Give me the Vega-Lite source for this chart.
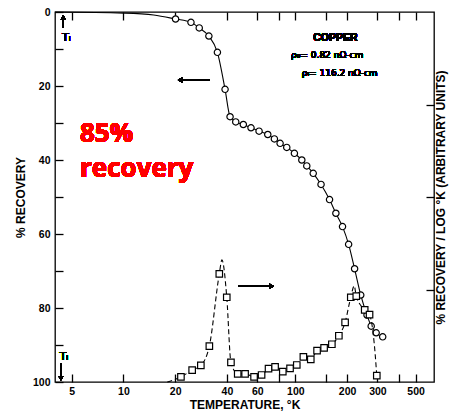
{
  "$schema": "https://vega.github.io/schema/vega-lite/v6.json",
  "width": 379,
  "height": 370,
  "autosize": {"type": "none"},
  "padding": {"left": 55, "top": 12, "right": 27, "bottom": 30},
  "background": "white",
  "config": {
    "view": {"stroke": "black", "strokeWidth": 1.3},
    "axis": {
      "domain": false, "offset": -8, "ticks": true,
      "tickColor": "black", "tickWidth": 1.3, "tickSize": 8, "tickOpacity": 1,
      "labelPadding": 4,
      "labelFont": "Liberation Sans", "labelFontSize": 10.5, "labelFontWeight": "bold", "labelColor": "black",
      "titleFont": "Liberation Sans", "titleFontSize": 12, "titleFontWeight": "bold", "titleColor": "black",
      "titlePadding": 3,
      "grid": false
    }
  },
  "data": {
    "values": [
      {"series": "R", "measured": false, "T": 4.0, "R": 0},
      {"series": "R", "measured": false, "T": 10, "R": 0.3},
      {"series": "R", "measured": false, "T": 15, "R": 0.8},
      {"series": "R", "measured": true, "T": 20.1, "R": 1.9},
      {"series": "R", "measured": true, "T": 24.7, "R": 2.8},
      {"series": "R", "measured": true, "T": 27.6, "R": 4.3},
      {"series": "R", "measured": true, "T": 31.4, "R": 6.5},
      {"series": "R", "measured": true, "T": 35.2, "R": 10.9},
      {"series": "R", "measured": true, "T": 39.0, "R": 20.9},
      {"series": "R", "measured": true, "T": 41.7, "R": 28.3},
      {"series": "R", "measured": true, "T": 45.0, "R": 29.7},
      {"series": "R", "measured": true, "T": 49.8, "R": 30.4},
      {"series": "R", "measured": true, "T": 55.2, "R": 31.3},
      {"series": "R", "measured": true, "T": 61.5, "R": 32.2},
      {"series": "R", "measured": true, "T": 69.1, "R": 33.1},
      {"series": "R", "measured": true, "T": 75.5, "R": 34.3},
      {"series": "R", "measured": true, "T": 81.5, "R": 35.5},
      {"series": "R", "measured": true, "T": 89.1, "R": 36.6},
      {"series": "R", "measured": true, "T": 98.7, "R": 38.2},
      {"series": "R", "measured": true, "T": 109, "R": 40.0},
      {"series": "R", "measured": true, "T": 116.5, "R": 41.6},
      {"series": "R", "measured": true, "T": 127, "R": 43.6},
      {"series": "R", "measured": true, "T": 141, "R": 46.6},
      {"series": "R", "measured": true, "T": 158, "R": 50.7},
      {"series": "R", "measured": true, "T": 172, "R": 54.4},
      {"series": "R", "measured": true, "T": 188, "R": 58.0},
      {"series": "R", "measured": true, "T": 204, "R": 62.8},
      {"series": "R", "measured": true, "T": 221, "R": 69.4},
      {"series": "R", "measured": true, "T": 240, "R": 76.5},
      {"series": "R", "measured": true, "T": 261, "R": 81.9},
      {"series": "R", "measured": true, "T": 276, "R": 84.9},
      {"series": "R", "measured": true, "T": 295, "R": 86.7},
      {"series": "R", "measured": true, "T": 322, "R": 87.8},
      {"series": "D", "measured": false, "T": 18, "R": 100},
      {"series": "D", "measured": true, "T": 21.6, "R": 98.6},
      {"series": "D", "measured": true, "T": 25.1, "R": 96.8},
      {"series": "D", "measured": true, "T": 28.2, "R": 95.5},
      {"series": "D", "measured": true, "T": 31.6, "R": 90.3},
      {"series": "D", "measured": true, "T": 36.1, "R": 70.8},
      {"series": "D", "measured": false, "T": 37.4, "R": 67.0},
      {"series": "D", "measured": true, "T": 39.9, "R": 77.1},
      {"series": "D", "measured": true, "T": 42.2, "R": 94.7},
      {"series": "D", "measured": true, "T": 46.2, "R": 97.8},
      {"series": "D", "measured": true, "T": 51.0, "R": 97.8},
      {"series": "D", "measured": true, "T": 57.5, "R": 98.6},
      {"series": "D", "measured": true, "T": 63.6, "R": 98.1},
      {"series": "D", "measured": true, "T": 69.8, "R": 96.4},
      {"series": "D", "measured": true, "T": 76.2, "R": 95.9},
      {"series": "D", "measured": true, "T": 84.5, "R": 97.2},
      {"series": "D", "measured": true, "T": 93.1, "R": 96.3},
      {"series": "D", "measured": true, "T": 101.9, "R": 95.4},
      {"series": "D", "measured": true, "T": 111.3, "R": 93.2},
      {"series": "D", "measured": true, "T": 122.9, "R": 93.9},
      {"series": "D", "measured": true, "T": 133.7, "R": 91.5},
      {"series": "D", "measured": true, "T": 146.9, "R": 90.8},
      {"series": "D", "measured": true, "T": 163, "R": 89.8},
      {"series": "D", "measured": true, "T": 179, "R": 87.5},
      {"series": "D", "measured": true, "T": 194.6, "R": 83.9},
      {"series": "D", "measured": true, "T": 210, "R": 77.1},
      {"series": "D", "measured": false, "T": 220, "R": 74.0},
      {"series": "D", "measured": true, "T": 226, "R": 76.8},
      {"series": "D", "measured": true, "T": 253, "R": 80.5},
      {"series": "D", "measured": true, "T": 270, "R": 81.8},
      {"series": "D", "measured": false, "T": 288, "R": 90.0},
      {"series": "D", "measured": true, "T": 297.5, "R": 98.3}
    ]
  },
  "resolve": {"scale": {"x": "shared", "y": "shared"}, "axis": {"x": "independent", "y": "independent"}},
  "layer": [
    {
      "transform": [{"filter": "datum.series === 'R'"}],
      "mark": {"type": "line", "interpolate": "monotone", "color": "black", "strokeWidth": 1.1},
      "encoding": {
        "x": {"field": "T", "type": "quantitative",
          "scale": {"type": "log", "domain": [4, 640], "nice": false},
          "axis": {"orient": "bottom", "title": "TEMPERATURE, °K",
            "values": [5, 10, 20, 40, 60, 80, 100, 150, 200, 300, 400, 500],
            "labelExpr": "indexof([5,10,20,40,60,100,200,300,500], datum.value) >= 0 ? datum.label : ''",
            "labelFlush": false, "labelOverlap": false}},
        "y": {"field": "R", "type": "quantitative",
          "scale": {"domain": [0, 100], "reverse": true, "nice": false},
          "axis": {"orient": "left", "title": "% RECOVERY", "labelPadding": 5, "titlePadding": 5,
            "values": [0, 10, 20, 30, 40, 50, 60, 70, 80, 90, 100],
            "labelExpr": "datum.value % 20 === 0 ? datum.label : ''",
            "labelFlush": false, "labelOverlap": false}}
      }
    },
    {
      "transform": [{"filter": "datum.series === 'R' && datum.measured"}],
      "mark": {"type": "point", "shape": "circle", "filled": true, "fill": "white", "stroke": "black", "strokeWidth": 1.2, "size": 40, "opacity": 1},
      "encoding": {
        "x": {"field": "T", "type": "quantitative",
          "axis": {"orient": "top", "title": null, "labels": false,
            "values": [5, 10, 20, 40, 60, 80, 100, 150, 200, 300, 400, 500]}},
        "y": {"field": "R", "type": "quantitative",
          "axis": {"orient": "right", "title": "% RECOVERY / LOG °K (ARBITRARY UNITS)", "titleAngle": 270,
            "labels": false, "values": [25, 50, 75], "titlePadding": 13}}
      }
    },
    {
      "transform": [{"filter": "datum.series === 'D'"}],
      "mark": {"type": "line", "interpolate": "monotone", "color": "black", "strokeWidth": 1.1, "strokeDash": [5, 3]},
      "encoding": {
        "x": {"field": "T", "type": "quantitative", "axis": null},
        "y": {"field": "R", "type": "quantitative", "axis": null}
      }
    },
    {
      "transform": [{"filter": "datum.series === 'D' && datum.measured"}],
      "mark": {"type": "point", "shape": "square", "filled": true, "fill": "white", "stroke": "black", "strokeWidth": 1.2, "size": 42, "opacity": 1},
      "encoding": {
        "x": {"field": "T", "type": "quantitative", "axis": null},
        "y": {"field": "R", "type": "quantitative", "axis": null}
      }
    },
    {
      "mark": {"type": "rule", "color": "black", "strokeWidth": 1.1},
      "encoding": {
        "x": {"datum": 22.0, "type": "quantitative", "axis": null},
        "x2": {"datum": 31.5},
        "y": {"datum": 18.4, "type": "quantitative", "axis": null}
      }
    },
    {
      "mark": {"type": "point", "shape": "triangle-left", "filled": true, "color": "black", "size": 30, "opacity": 1},
      "encoding": {
        "x": {"datum": 21.4, "type": "quantitative", "axis": null},
        "y": {"datum": 18.4, "type": "quantitative", "axis": null}
      }
    },
    {
      "mark": {"type": "rule", "color": "black", "strokeWidth": 1.1},
      "encoding": {
        "x": {"datum": 46.6, "type": "quantitative", "axis": null},
        "x2": {"datum": 71.5},
        "y": {"datum": 74.1, "type": "quantitative", "axis": null}
      }
    },
    {
      "mark": {"type": "point", "shape": "triangle-right", "filled": true, "color": "black", "size": 30, "opacity": 1},
      "encoding": {
        "x": {"datum": 72.8, "type": "quantitative", "axis": null},
        "y": {"datum": 74.1, "type": "quantitative", "axis": null}
      }
    },
    {
      "mark": {"type": "rule", "color": "black", "strokeWidth": 1.1},
      "encoding": {
        "x": {"datum": 4.47, "type": "quantitative", "axis": null},
        "y": {"datum": 1.8, "type": "quantitative", "axis": null},
        "y2": {"datum": 4.1}
      }
    },
    {
      "mark": {"type": "point", "shape": "triangle-up", "filled": true, "color": "black", "size": 25, "opacity": 1},
      "encoding": {
        "x": {"datum": 4.47, "type": "quantitative", "axis": null},
        "y": {"datum": 1.4, "type": "quantitative", "axis": null}
      }
    },
    {
      "mark": {"type": "rule", "color": "black", "strokeWidth": 1.1},
      "encoding": {
        "x": {"datum": 4.33, "type": "quantitative", "axis": null},
        "y": {"datum": 94.9, "type": "quantitative", "axis": null},
        "y2": {"datum": 98.6}
      }
    },
    {
      "mark": {"type": "point", "shape": "triangle-down", "filled": true, "color": "black", "size": 25, "opacity": 1},
      "encoding": {
        "x": {"datum": 4.33, "type": "quantitative", "axis": null},
        "y": {"datum": 99.0, "type": "quantitative", "axis": null}
      }
    },
    {
      "mark": {"type": "text", "text": "Tᵢ", "font": "DejaVu Sans", "fontSize": 11, "color": "black", "align": "left", "baseline": "middle"},
      "encoding": {
        "x": {"datum": 4.4, "type": "quantitative", "axis": null},
        "y": {"datum": 6.9, "type": "quantitative", "axis": null}
      }
    },
    {
      "mark": {"type": "text", "text": "Tᵢ", "font": "DejaVu Sans", "fontSize": 11, "color": "black", "align": "left", "baseline": "middle"},
      "encoding": {
        "x": {"datum": 4.25, "type": "quantitative", "axis": null},
        "y": {"datum": 93.2, "type": "quantitative", "axis": null}
      }
    },
    {
      "mark": {"type": "text", "text": "COPPER", "font": "Liberation Sans", "fontSize": 10.5, "fontWeight": "bold", "color": "black", "align": "center", "baseline": "middle"},
      "encoding": {
        "x": {"datum": 171, "type": "quantitative", "axis": null},
        "y": {"datum": 6.95, "type": "quantitative", "axis": null}
      }
    },
    {
      "mark": {"type": "text", "text": "ρ₀= 0.82 nΩ-cm", "font": "DejaVu Sans", "fontSize": 9, "color": "black", "align": "left", "baseline": "middle"},
      "encoding": {
        "x": {"datum": 94.4, "type": "quantitative", "axis": null},
        "y": {"datum": 11.6, "type": "quantitative", "axis": null}
      }
    },
    {
      "mark": {"type": "text", "text": "ρᵢ= 116.2 nΩ-cm", "font": "DejaVu Sans", "fontSize": 9, "color": "black", "align": "left", "baseline": "middle"},
      "encoding": {
        "x": {"datum": 108.9, "type": "quantitative", "axis": null},
        "y": {"datum": 16.4, "type": "quantitative", "axis": null}
      }
    },
    {
      "mark": {"type": "text", "text": "85%", "font": "Open Sans", "fontSize": 26, "fontWeight": "bold", "color": "#ff0000", "align": "left", "baseline": "alphabetic"},
      "encoding": {
        "x": {"datum": 5.59, "type": "quantitative", "axis": null},
        "y": {"datum": 35.05, "type": "quantitative", "axis": null}
      }
    },
    {
      "mark": {"type": "text", "text": "recovery", "font": "Open Sans", "fontSize": 26, "fontWeight": "bold", "color": "#ff0000", "align": "left", "baseline": "alphabetic"},
      "encoding": {
        "x": {"datum": 5.59, "type": "quantitative", "axis": null},
        "y": {"datum": 44.6, "type": "quantitative", "axis": null}
      }
    }
  ]
}
